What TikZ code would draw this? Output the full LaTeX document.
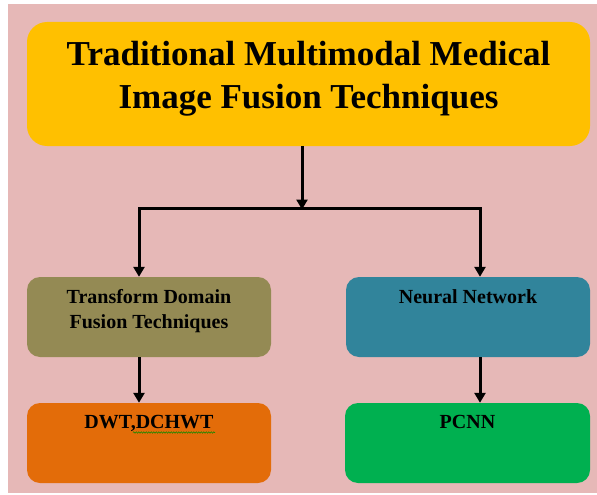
\documentclass[tikz,border=0pt]{standalone}
\usepackage{fontspec}
\setmainfont{Liberation Serif}
\usetikzlibrary{arrows.meta,decorations.pathmorphing}

\definecolor{bgpink}{HTML}{E6B8B7}
\definecolor{topgold}{HTML}{FFC000}
\definecolor{olivebox}{HTML}{948A54}
\definecolor{tealbox}{HTML}{31849B}
\definecolor{orangebox}{HTML}{E36C09}
\definecolor{greenbox}{HTML}{00B050}

\tikzset{
  box/.style={rounded corners=13pt, minimum width=244pt, minimum height=80pt, inner sep=0pt},
  boxtext/.style={anchor=north, inner sep=0pt, align=center, font=\fontsize{20}{25}\selectfont\bfseries},
  conn/.style={line width=3pt, -{Triangle[length=10pt,width=11pt]}},
}

\begin{document}
\begin{tikzpicture}[x=1pt, y=-1pt]
        \useasboundingbox (0,0) rectangle (597,495);
        % Background
        \fill[bgpink] (8,4) rectangle (597,493);

        % Top box
        \node[box, fill=topgold, rounded corners=20pt, minimum width=563pt, minimum height=124pt] (trad) at (308.5,84) {};
        \node[anchor=north, inner sep=0pt, align=center, font=\fontsize{35}{43}\selectfont\bfseries] (tradT) at (308.5,41.5)
            {Traditional Multimodal Medical\\Image Fusion Techniques};

        % Middle boxes
        \node[box, fill=olivebox] (tdf) at (149,317) {};
        \node[boxtext] (tdfT) at (149,289.5) {Transform Domain\\Fusion Techniques};
        \node[box, fill=tealbox] (nn) at (468,317) {};
        \node[boxtext] (nnT) at (468,289.5) {Neural Network};

        % Bottom boxes
        \node[box, fill=orangebox] (dwt) at (149,443) {};
        \node[boxtext] (dwtT) at (149,415.5) {DWT,DCHWT};
        \node[box, fill=greenbox, minimum width=245pt] (pcnn) at (467.5,443) {};
        \node[boxtext] (pcnnT) at (467.5,415.5) {PCNN};

        % spell check mark under DCHWT
        \draw[green!55!black, line width=0.5pt, decorate, decoration={snake, amplitude=0.7pt, segment length=2.5pt}]
            (133,432.5) -- (215,432.5);

        % Connectors
        \coordinate (split) at (302,208);
        \coordinate (splitL) at (139,208);
        \coordinate (splitR) at (480,208);
        \draw[conn] (trad.south -| split) -- ([yshift=-1.5pt]split);
        \draw[conn] (split) -- (splitL) -- (tdf.north -| splitL);
        \draw[conn] (split) -- (splitR) -- (nn.north -| splitR);
        \draw[conn] (tdf.south -| splitL) -- (dwt.north -| splitL);
        \draw[conn] (nn.south -| splitR) -- (pcnn.north -| splitR);
    \end{tikzpicture}
\end{document}
